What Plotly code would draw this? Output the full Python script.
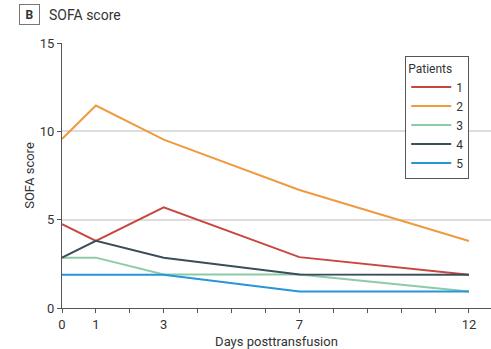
import plotly.graph_objects as go

# Days after transfusion and SOFA score per patient
days = [0, 1, 3, 7, 12]
patient_1 = [4.75, 3.8, 5.7, 2.88, 1.88]
patient_2 = [9.57, 11.46, 9.53, 6.68, 3.79]
patient_3 = [2.85, 2.85, 1.9, 1.9, 0.93]
patient_4 = [2.85, 3.8, 2.85, 1.9, 1.88]
patient_5 = [1.88, 1.88, 1.88, 0.93, 0.93]

series = [
    ("1", patient_1, "#C8463F"),
    ("2", patient_2, "#F09A3E"),
    ("3", patient_3, "#8CCBA8"),
    ("4", patient_4, "#3A4E5A"),
    ("5", patient_5, "#2596D6"),
]

x_tick_vals = list(range(0, 13))
x_tick_text = [str(d) if d in (0, 1, 3, 7, 12) else "" for d in x_tick_vals]
y_tick_vals = [0, 5, 10, 15]

FONT = "Roboto, Arial, sans-serif"
TEXT = "#333333"
AXIS = "#555555"

fig = go.Figure()
for name, vals, color in series:
    fig.add_trace(go.Scatter(
        x=days, y=vals, mode="lines", name=name,
        line=dict(color=color, width=2),
    ))

fig.update_layout(
    width=491, height=349,
    margin=dict(l=62, r=0, t=43, b=41),
    paper_bgcolor="white", plot_bgcolor="white",
    font=dict(family=FONT, size=13, color=TEXT),
    showlegend=True,
    legend=dict(
        title=dict(text="Patients", font=dict(size=12, color=TEXT)),
        x=0.80, y=0.951, xanchor="left", yanchor="top",
        bgcolor="white", bordercolor=AXIS, borderwidth=1,
        font=dict(size=12, color=TEXT),
        itemwidth=40, tracegroupgap=0,
    ),
    xaxis=dict(
        range=[0, 12.65],
        tickmode="array", tickvals=x_tick_vals, ticktext=x_tick_text,
        ticks="outside", ticklen=4, tickcolor=AXIS,
        showline=True, linecolor=AXIS, linewidth=1,
        showgrid=False, zeroline=False,
        tickfont=dict(size=13, color=TEXT),
        title=dict(text="Days posttransfusion", font=dict(size=13, color=TEXT), standoff=6),
    ),
    yaxis=dict(
        range=[0, 15],
        tickmode="array", tickvals=y_tick_vals,
        ticks="outside", ticklen=4, tickcolor=AXIS,
        showline=True, linecolor=AXIS, linewidth=1,
        showgrid=True, gridcolor="#DDDDDD", gridwidth=1.5,
        zeroline=False,
        tickfont=dict(size=13, color=TEXT),
        title=dict(text="SOFA score", font=dict(size=13, color=TEXT), standoff=2),
    ),
    annotations=[
        dict(text="<b>B</b>", xref="paper", yref="paper", x=-0.075, y=1.106,
             xanchor="center", yanchor="middle", showarrow=False,
             font=dict(size=12, color=TEXT), bordercolor="#777777",
             borderwidth=1, borderpad=2, bgcolor="white", width=15, height=15),
        dict(text="SOFA score", xref="paper", yref="paper", x=-0.036, y=1.106,
             xanchor="left", yanchor="middle", showarrow=False,
             font=dict(size=14, color=TEXT)),
    ],
)

fig.write_html("out.html")
